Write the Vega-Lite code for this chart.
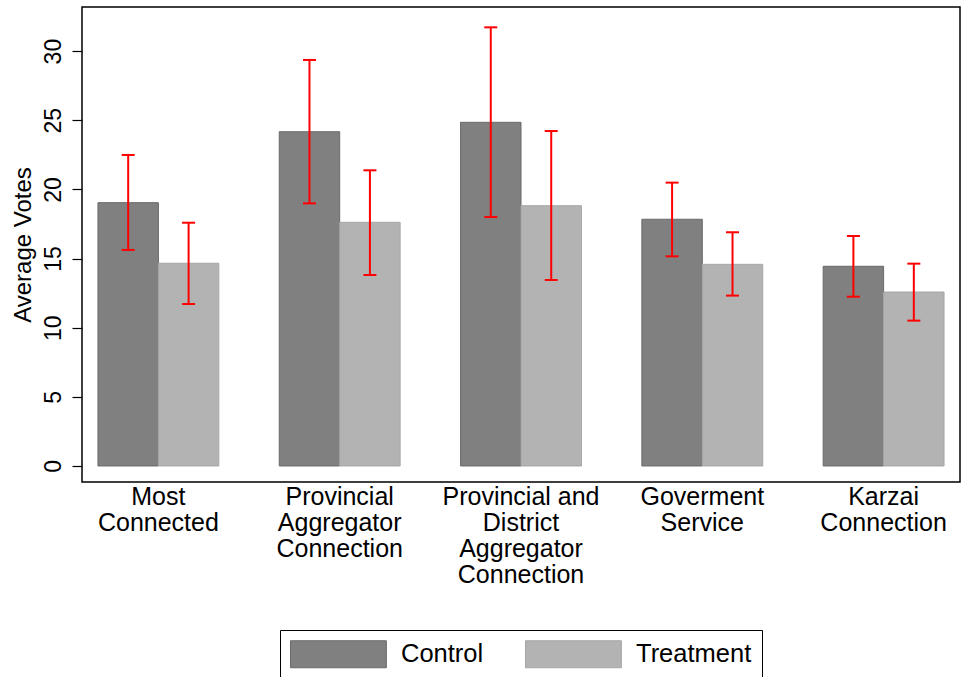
{
  "$schema": "https://vega.github.io/schema/vega-lite/v6.json",
  "width": 878,
  "height": 475,
  "autosize": {"type": "none"},
  "padding": {"left": 82, "top": 7, "right": 4, "bottom": 195},
  "background": "white",
  "config": {
    "view": {"stroke": "black", "strokeWidth": 1.5},
    "font": "Liberation Sans",
    "axis": {"grid": false, "labelColor": "black", "titleColor": "black", "labelFont": "Liberation Sans", "titleFont": "Liberation Sans", "titleFontWeight": "normal"}
  },
  "data": {
    "values": [
      {"category": "Most|Connected", "group": "Control", "mean": 19.04, "lo": 15.62, "hi": 22.49},
      {"category": "Most|Connected", "group": "Treatment", "mean": 14.66, "lo": 11.71, "hi": 17.59},
      {"category": "Provincial|Aggregator|Connection", "group": "Control", "mean": 24.17, "lo": 18.99, "hi": 29.36},
      {"category": "Provincial|Aggregator|Connection", "group": "Treatment", "mean": 17.62, "lo": 13.81, "hi": 21.38},
      {"category": "Provincial and|District|Aggregator|Connection", "group": "Control", "mean": 24.85, "lo": 18.0, "hi": 31.72},
      {"category": "Provincial and|District|Aggregator|Connection", "group": "Treatment", "mean": 18.82, "lo": 13.45, "hi": 24.22},
      {"category": "Goverment|Service", "group": "Control", "mean": 17.84, "lo": 15.16, "hi": 20.49},
      {"category": "Goverment|Service", "group": "Treatment", "mean": 14.58, "lo": 12.32, "hi": 16.9},
      {"category": "Karzai|Connection", "group": "Control", "mean": 14.44, "lo": 12.24, "hi": 16.63},
      {"category": "Karzai|Connection", "group": "Treatment", "mean": 12.58, "lo": 10.51, "hi": 14.63}
    ]
  },
  "encoding": {
    "x": {
      "field": "category",
      "type": "nominal",
      "sort": null,
      "scale": {"paddingInner": 0.3333, "paddingOuter": 0.088},
      "axis": {
        "title": null,
        "labelAngle": 0,
        "ticks": false,
        "domain": false,
        "labelFontSize": 25,
        "labelLineHeight": 26,
        "labelBaseline": "top",
        "labelPadding": 2,
        "labelLimit": 300,
        "labelExpr": "split(datum.label, '|')"
      }
    },
    "xOffset": {
      "field": "group",
      "type": "nominal",
      "sort": ["Control", "Treatment"],
      "scale": {"paddingInner": 0, "paddingOuter": 0}
    }
  },
  "layer": [
    {
      "mark": {"type": "bar", "strokeWidth": 1, "opacity": 1},
      "encoding": {
        "y": {
          "field": "mean",
          "type": "quantitative",
          "scale": {"domain": [-1.16, 33.19], "nice": false, "zero": false},
          "axis": {
            "title": "Average Votes",
            "titleFontSize": 24,
            "titlePadding": 7,
            "values": [0, 5, 10, 15, 20, 25, 30],
            "domain": false,
            "tickSize": 10,
            "tickColor": "black",
            "tickWidth": 1.2,
            "labelAngle": -90,
            "labelAlign": "center",
            "labelBaseline": "bottom",
            "labelFontSize": 23,
            "labelPadding": 7
          }
        },
        "y2": {"datum": 0},
        "fill": {
          "field": "group",
          "type": "nominal",
          "scale": {"domain": ["Control", "Treatment"], "range": ["#808080", "#b3b3b3"]},
          "legend": {
            "title": null,
            "orient": "none",
            "legendX": 198,
            "legendY": 623,
            "direction": "horizontal",
            "columns": 2,
            "gridAlign": "all",
            "columnPadding": 6,
            "padding": 10,
            "strokeColor": "black",
            "symbolType": "M-1,-1H6.1V1H-1Z",
            "symbolSize": 729,
            "symbolStrokeColor": "#777777",
            "symbolStrokeWidth": 1,
            "symbolOpacity": 1,
            "labelFont": "Liberation Sans",
            "labelFontSize": 25.5,
            "labelColor": "black",
            "labelOffset": 83,
            "labelLimit": 400
          }
        },
        "stroke": {
          "field": "group",
          "type": "nominal",
          "scale": {"domain": ["Control", "Treatment"], "range": ["#6a6a6a", "#a6a6a6"]},
          "legend": null
        }
      }
    },
    {
      "mark": {"type": "rule", "color": "#ff0000", "strokeWidth": 2},
      "encoding": {
        "y": {"field": "lo", "type": "quantitative"},
        "y2": {"field": "hi"}
      }
    },
    {
      "mark": {"type": "tick", "color": "#ff0000", "thickness": 2, "size": 13, "opacity": 1},
      "encoding": {
        "y": {"field": "lo", "type": "quantitative"}
      }
    },
    {
      "mark": {"type": "tick", "color": "#ff0000", "thickness": 2, "size": 13, "opacity": 1},
      "encoding": {
        "y": {"field": "hi", "type": "quantitative"}
      }
    }
  ]
}
